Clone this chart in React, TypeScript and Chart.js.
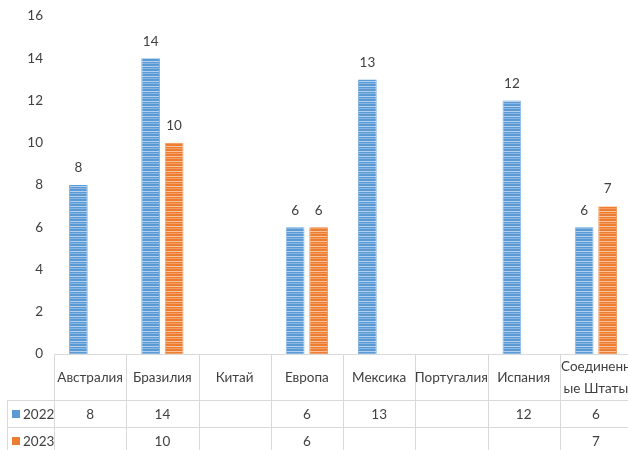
import React, { useEffect, useRef } from "react";
import { Chart, registerables } from "chart.js";

Chart.register(...registerables);

// Categories (the last one is wrapped over two lines, as in the table header)
const categories: (string | string[])[] = [
  "Австралия",
  "Бразилия",
  "Китай",
  "Европа",
  "Мексика",
  "Португалия",
  "Испания",
  ["Соединенн", "ые Штаты"],
];

const seriesNames = ["2022", "2023"];
const values2022: (number | null)[] = [8, 14, null, 6, 13, null, 12, 6];
const values2023: (number | null)[] = [null, 10, null, 6, null, null, null, 7];

const yMin = 0;
const yMax = 16;
const yStep = 2;

const BLUE = "#5b9bd5";
const BLUE_MID = "#88b5e2";
const BLUE_LIGHT = "#b4d0ee";
const ORANGE = "#ed7d31";
const ORANGE_MID = "#f29e66";
const ORANGE_LIGHT = "#f8c29c";
const TEXT = "#404040";
const GRID = "#d9d9d9";
const FONT = "Lato, 'Open Sans', sans-serif";
const FONT_SIZE = 13.5;

// Horizontal-line fill for the bars
function stripes(base: string, mid: string, light: string): CanvasPattern | string {
  const c = document.createElement("canvas");
  c.width = 4;
  c.height = 5;
  const g = c.getContext("2d");
  if (!g) return base;
  g.fillStyle = base;
  g.fillRect(0, 0, 4, 5);
  g.fillStyle = light;
  g.fillRect(0, 1, 4, 1);
  g.fillStyle = mid;
  g.fillRect(0, 3, 4, 1);
  return g.createPattern(c, "repeat") || base;
}

const valueLabels = {
  id: "valueLabels",
  afterDatasetsDraw(chart: any) {
    const { ctx } = chart;
    ctx.save();
    ctx.font = `${FONT_SIZE}px ${FONT}`;
    ctx.fillStyle = TEXT;
    ctx.textAlign = "center";
    ctx.textBaseline = "middle";
    chart.data.datasets.forEach((ds: any, di: number) => {
      const meta = chart.getDatasetMeta(di);
      meta.data.forEach((el: any, i: number) => {
        const v = ds.data[i];
        if (v === null || v === undefined) return;
        ctx.fillText(String(v), el.x, el.y - 17);
      });
    });
    ctx.restore();
  },
};

const dataTable = {
  id: "dataTable",
  afterDraw(chart: any) {
    const { ctx, chartArea } = chart;
    const left = chartArea.left;
    const right = chartArea.right;
    const n = categories.length;
    const colW = (right - left) / n;
    const top = chartArea.bottom;
    const headerBottom = top + 46;
    const row1Bottom = headerBottom + 27;
    const row2Bottom = row1Bottom + 27;
    const tableLeft = 7;
    const px = (v: number) => Math.round(v) + 0.5;

    ctx.save();
    ctx.strokeStyle = GRID;
    ctx.lineWidth = 1;
    const line = (x1: number, y1: number, x2: number, y2: number) => {
      ctx.beginPath();
      ctx.moveTo(px(x1), px(y1));
      ctx.lineTo(px(x2), px(y2));
      ctx.stroke();
    };
    line(left, top, right, top);
    line(tableLeft, headerBottom, right, headerBottom);
    line(tableLeft, row1Bottom, right, row1Bottom);
    line(tableLeft, row2Bottom, right, row2Bottom);
    line(tableLeft, headerBottom, tableLeft, row2Bottom);
    for (let k = 0; k <= n; k++) {
      const x = left + k * colW;
      line(x, top, x, row2Bottom);
    }

    ctx.font = `${FONT_SIZE}px ${FONT}`;
    ctx.fillStyle = TEXT;
    ctx.textAlign = "center";
    ctx.textBaseline = "middle";
    const headerMid = (top + headerBottom) / 2 + 1;
    categories.forEach((c, i) => {
      const cx = left + (i + 0.5) * colW;
      const lines = Array.isArray(c) ? c : [c];
      const lh = 22;
      lines.forEach((t, j) => {
        ctx.fillText(t, cx, headerMid + (j - (lines.length - 1) / 2) * lh);
      });
    });

    const rows = [
      { name: seriesNames[0], color: BLUE, data: values2022, mid: (headerBottom + row1Bottom) / 2 },
      { name: seriesNames[1], color: ORANGE, data: values2023, mid: (row1Bottom + row2Bottom) / 2 },
    ];
    rows.forEach((r) => {
      ctx.fillStyle = r.color;
      ctx.fillRect(12, Math.round(r.mid) - 4, 8, 8);
      ctx.fillStyle = TEXT;
      ctx.textAlign = "left";
      ctx.fillText(r.name, 23, r.mid + 1);
      ctx.textAlign = "center";
      r.data.forEach((v, i) => {
        if (v === null) return;
        ctx.fillText(String(v), left + (i + 0.5) * colW, r.mid + 1);
      });
    });
    ctx.restore();
  },
};

export default function App() {
  const ref = useRef<HTMLCanvasElement>(null);

  useEffect(() => {
    document.body.style.margin = "0";
    const canvas = ref.current;
    if (!canvas) return;
    const chart = new Chart(canvas, {
      type: "bar",
      data: {
        labels: categories as any,
        datasets: [
          {
            label: seriesNames[0],
            data: values2022,
            backgroundColor: stripes(BLUE, BLUE_MID, BLUE_LIGHT) as any,
            borderColor: BLUE_MID,
            borderWidth: { left: 1, right: 1, top: 0, bottom: 0 },
          },
          {
            label: seriesNames[1],
            data: values2023,
            backgroundColor: stripes(ORANGE, ORANGE_MID, ORANGE_LIGHT) as any,
            borderColor: ORANGE_MID,
            borderWidth: { left: 1, right: 1, top: 0, bottom: 0 },
          },
        ],
      },
      options: {
        responsive: false,
        animation: false,
        datasets: {
          bar: { categoryPercentage: 0.65, barPercentage: 0.8 },
        },
        layout: { padding: { top: 16, bottom: 96, left: 0, right: 0 } },
        plugins: {
          legend: { display: false },
          tooltip: { enabled: false },
        },
        scales: {
          x: { display: false },
          y: {
            min: yMin,
            max: yMax,
            ticks: {
              stepSize: yStep,
              padding: 11,
              color: TEXT,
              font: { family: FONT, size: FONT_SIZE },
            },
            grid: { display: false, drawTicks: false },
            border: { display: false },
            afterFit: (scale: any) => {
              scale.width = 54;
              scale.paddingTop = 0;
              scale.paddingBottom = 0;
            },
          },
        },
      },
      plugins: [valueLabels, dataTable],
    });
    return () => chart.destroy();
  }, []);

  return (
    <div style={{ width: 628, height: 450, overflow: "hidden", background: "#fff" }}>
      <canvas ref={ref} width={632} height={450} style={{ display: "block" }} />
    </div>
  );
}
